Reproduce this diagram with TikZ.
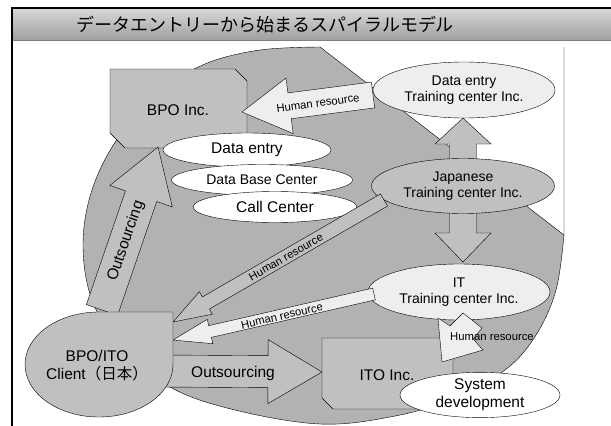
\documentclass[tikz,border=0pt]{standalone}
\usepackage{fontspec}
\setmainfont{Liberation Sans}
\newfontfamily\cjk{Noto Sans CJK JP}
\usetikzlibrary{calc,shapes.geometric}

\definecolor{blobgray}{HTML}{B2B2B2}
\definecolor{boxgray}{HTML}{C0C0C0}
\definecolor{palegray}{HTML}{EEEEEE}

\tikzset{
  big/.style={font=\fontsize{15.5}{18}\selectfont, align=center},
  mid/.style={font=\fontsize{14}{16.5}\selectfont, align=center},
  small/.style={font=\fontsize{11.3}{13}\selectfont},
  ell/.style={draw, ellipse, inner sep=0pt},
  barrow/.style n args={3}{to path={
    let \p1=(\tikztostart), \p2=(\tikztotarget),
        \n1={atan2(\y2-\y1,\x2-\x1)}, \n2={veclen(\x2-\x1,\y2-\y1)-#3} in
    ($(\p1)+(\n1+90:#1pt)$) -- ($(\p1)+(\n1:\n2)+(\n1+90:#1pt)$)
    -- ($(\p1)+(\n1:\n2)+(\n1+90:#2pt)$) -- (\p2)
    -- ($(\p1)+(\n1:\n2)+(\n1-90:#2pt)$) -- ($(\p1)+(\n1:\n2)+(\n1-90:#1pt)$)
    -- ($(\p1)+(\n1-90:#1pt)$) -- cycle}}
}

\begin{document}
\begin{tikzpicture}[x=1pt,y=-1pt]
\useasboundingbox (0,0) rectangle (611,426);

\coordinate (hrtop) at (373,95);
\coordinate (bpoin) at (242,112);
\coordinate (outup) at (102,310);
\coordinate (bpobot) at (158,147);
\coordinate (jpntop) at (463,160);
\coordinate (detcbot) at (463,118);
\coordinate (jpnbot) at (463,211);
\coordinate (ittop) at (463,262);
\coordinate (hrjpn) at (384,200);
\coordinate (clienta) at (173,322);
\coordinate (hrit) at (374,294);
\coordinate (clientb) at (173,340);
\coordinate (outright) at (160,371);
\coordinate (itoin) at (322,372);

\shade[top color=gray!30, bottom color=gray!75] (12,8) rectangle (611,40);
\draw[gray] (12,40) -- (611,40);
\draw[line width=2pt] (12,426) -- (12,8) -- (611,8);
\node[font=\cjk\fontsize{18}{20}\selectfont] (title) at (265,25) {データエントリーから始まるスパイラルモデル};

\draw[fill=blobgray] (564,47) -- (564,235) plot[smooth, tension=0.6] coordinates {(564,235) (556,290) (536,335) (505,370) (450,400) (390,417) (320,424) (235,410) (170,387) (120,345) (92,300) (83,245) (92,190) (118,138) (160,92) (205,64) (260,50) (320,47)} -- cycle;

\draw[fill=boxgray] (110,69) -- (235,69) -- (247,81) -- (247,148) -- (125,148) -- (110,133) -- cycle;
\node[big] (bpo) at (178,110) {BPO Inc.};

\draw[fill=palegray, barrow={13}{28}{48}] (hrtop) to (bpoin);
\draw[fill=boxgray, barrow={16.5}{33}{52}] (outup) to (bpobot);

\node[ell, mid, fill=palegray, minimum width=182pt, minimum height=56pt] (detc) at (464,90) {Data entry\\Training center Inc.};
\node[ell, big, fill=white, minimum width=168pt, minimum height=34pt] (dentry) at (247,150) {Data entry};
\node[ell, mid, fill=white, minimum width=181pt, minimum height=31pt] (dbc) at (262,180) {Data Base Center};
\node[ell, big, fill=white, minimum width=164pt, minimum height=31pt] (call) at (275,207) {Call Center};

\draw[fill=boxgray, barrow={13.5}{28}{26}] (jpntop) to (detcbot);
\draw[fill=boxgray, barrow={13.5}{28}{29}] (jpnbot) to (ittop);

\node[ell, mid, fill=boxgray, minimum width=183pt, minimum height=55pt] (jpn) at (463,186) {Japanese\\Training center Inc.};
\draw[fill=boxgray, barrow={7}{13}{38}] (hrjpn) to (clienta);
\node[ell, mid, fill=palegray, minimum width=182pt, minimum height=56pt] (it) at (459,292) {IT\\Training center Inc.};
\draw[fill=palegray, barrow={6}{12.5}{38}] (hrit) to (clientb);
\draw[fill=boxgray, barrow={16}{32}{54}] (outright) to (itoin);

\draw[fill=boxgray] (99,312) -- (173,312) -- (173,364.5) arc[start angle=0, end angle=270, x radius=74, y radius=52.5] -- cycle;
\node[big] (client) at (97,366) {BPO/ITO\\Client{\cjk （日本）}};

\draw[fill=boxgray] (322,338) -- (441,338) -- (453,350) -- (453,409) -- (333,409) -- (322,398) -- cycle;
\node[big] (ito) at (387,375) {ITO Inc.};

\draw[fill=palegray] (438,318) -- (450,326) -- (463,313) -- (482,328) -- (473,339) -- (483,350) -- (442,362) -- cycle;

\node[ell, big, fill=white, minimum width=160pt, minimum height=43pt] (sysdev) at (480,395) {System\\development};

\node[small, rotate=7.4] (hrtoplbl) at (318,103) {Human resource};
\node[big, rotate=71] (outuplbl) at (126,241) {Outsourcing};
\node[small, rotate=30] (hrjpnlbl) at (286,257) {Human resource};
\node[small, rotate=12.9] (hritlbl) at (282,316) {Human resource};
\node[big] (outrightlbl) at (233,373) {Outsourcing};
\node[small] (hritolbl) at (492,337) {Human resource};
\end{tikzpicture}
\end{document}
